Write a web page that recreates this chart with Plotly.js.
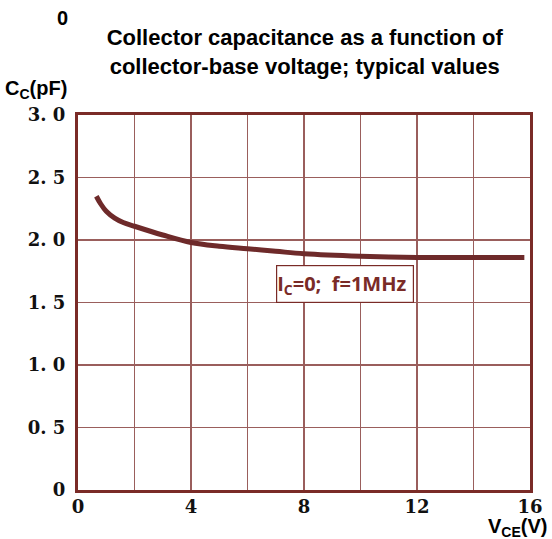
<!DOCTYPE html>
<html>
<head>
<meta charset="utf-8">
<script src="https://cdn.plot.ly/plotly-3.0.1.min.js"></script>
<style>html,body{margin:0;padding:0;background:#fff;}</style>
</head>
<body>
<div id="chart" style="width:552px;height:539px;"></div>
<script>
// Data
const vce = [0.65, 0.8, 1, 1.3, 1.6, 2, 3, 4, 5, 6, 7, 8, 10, 12, 14, 15.8];
const cc  = [2.35, 2.29, 2.23, 2.175, 2.14, 2.11, 2.04, 1.98, 1.95, 1.93, 1.91, 1.89, 1.87, 1.86, 1.86, 1.86];
const xTickVals = [0, 2, 4, 6, 8, 10, 12, 14, 16];
const xTickText = ['0', '', '4', '', '8', '', '12', '', '16'];
const yTickVals = [0, 0.5, 1.0, 1.5, 2.0, 2.5, 3.0];
const yTickText = ['0', '0. 5', '1. 0', '1. 5', '2. 0', '2. 5', '3. 0'];

const border = '#7a2b27';
const grid = '#9a5e5c';
const tickFont = {family: 'DejaVu Serif, serif', size: 18, color: '#111', weight: 700};
const titleFont = {family: 'Liberation Sans, Arial, sans-serif', size: 22, color: '#000', weight: 700};
const labelFont = {family: 'Liberation Sans, Arial, sans-serif', size: 20, color: '#000', weight: 700};

const trace = {
  x: vce, y: cc, type: 'scatter', mode: 'lines',
  line: {color: '#6e2a2a', width: 5, shape: 'spline', smoothing: 1},
  hoverinfo: 'skip'
};

const layout = {
  width: 552, height: 539,
  margin: {l: 78, r: 22, t: 115, b: 49},
  paper_bgcolor: '#fff', plot_bgcolor: '#fff',
  showlegend: false,
  title: {
    text: 'Collector capacitance as a function of<br>collector-base voltage; typical values',
    font: titleFont, x: 0.552, xref: 'container', xanchor: 'center',
    y: 1 - 45/539, yref: 'container', yanchor: 'middle'
  },
  xaxis: {
    range: [0, 16], tickvals: xTickVals, ticktext: xTickText,
    showgrid: true, gridcolor: grid, gridwidth: 1.5,
    showline: true, linecolor: border, linewidth: 3, mirror: true,
    zeroline: false, ticks: '', tickfont: tickFont, ticklabelstandoff: -2,
    fixedrange: true
  },
  yaxis: {
    range: [0, 3], tickvals: yTickVals, ticktext: yTickText,
    showgrid: true, gridcolor: grid, gridwidth: 1.5,
    showline: true, linecolor: border, linewidth: 3, mirror: true,
    zeroline: false, ticks: '', tickfont: tickFont, ticklabelstandoff: 6,
    fixedrange: true
  },
  annotations: [
    {text: '0', xref: 'paper', yref: 'paper', x: (62-78)/452, y: 1 + (115-18)/375,
     xanchor: 'center', yanchor: 'middle', showarrow: false, font: labelFont},
    {text: 'C<sub>C</sub>(pF)', xref: 'paper', yref: 'paper', x: (3-78)/452, y: 1 + (115-89)/375,
     xanchor: 'left', yanchor: 'middle', showarrow: false, font: labelFont},
    {text: 'V<sub>CE</sub>(V)', xref: 'paper', yref: 'paper', x: (549-78)/452, y: -(527-490)/375,
     xanchor: 'right', yanchor: 'middle', showarrow: false, font: labelFont},
    {text: 'I<sub>C</sub>=0;  f=1MHz', x: 7.02, y: 1.5, xref: 'x', yref: 'y',
     xanchor: 'left', yanchor: 'bottom', showarrow: false, align: 'left',
     bgcolor: '#fff', bordercolor: border, borderwidth: 1.2, borderpad: 0,
     width: 136, height: 36,
     font: {family: 'Open Sans, sans-serif', size: 20, color: '#7a2b27', weight: 700}}
  ]
};

Plotly.newPlot('chart', [trace], layout, {displayModeBar: false, staticPlot: true});
</script>
</body>
</html>
